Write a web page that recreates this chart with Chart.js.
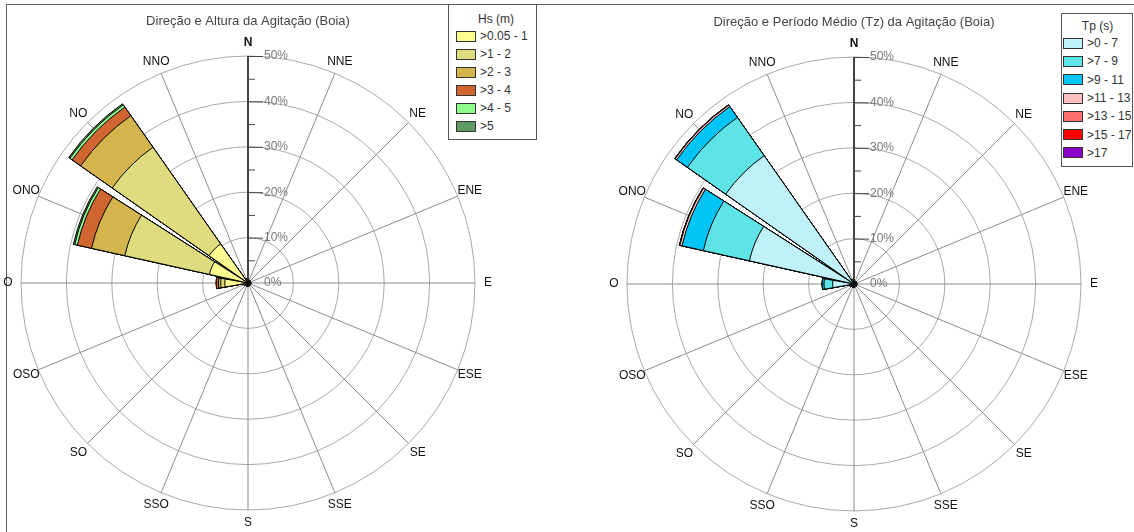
<!DOCTYPE html>
<html>
<head>
<meta charset="utf-8">
<script src="https://cdn.jsdelivr.net/npm/chart.js@4.4.0/dist/chart.umd.min.js"></script>
<style>
  body { margin: 0; background: #fff; font-family: "Liberation Sans", Arial, sans-serif; }
  #page { position: relative; width: 1134px; height: 532px; overflow: hidden; background: #fff; }
  .frame { position: absolute; left: 6px; top: 4px; width: 1200px; height: 600px;
           border-top: 1px solid #666; border-left: 1px solid #666; }
  .box { position: absolute; top: 0; width: 496px; height: 532px; }
  .legend { position: absolute; box-sizing: border-box; border: 1px solid #555; background: #fff;
            font-size: 12px; color: #333; overflow: hidden; }
  .legend .ttl { height: 16px; line-height: 16px; text-align: center; }
  .legend .row { display: flex; align-items: center; white-space: nowrap; }
  .legend .sw { flex: none; box-sizing: border-box; width: 20px; height: 11px; border: 1px solid #333; margin-right: 4px; }
</style>
</head>
<body>
<div id="page">
  <div class="frame"></div>
  <div class="box" style="left:0px"><canvas id="hsChart"></canvas></div>
  <div class="box" style="left:606px;top:1px"><canvas id="tpChart"></canvas></div>
  <div class="legend" id="hsLegend" style="left:448px;top:4px;width:89px;height:136px;padding:6px 0 0 7px"></div>
  <div class="legend" id="tpLegend" style="left:1061px;top:13px;width:72px;height:154px;padding:4px 0 0 1px"></div>
</div>
<script>
// directions, clockwise from north
const directions = ['N', 'NNE', 'NE', 'ENE', 'E', 'ESE', 'SE', 'SSE', 'S', 'SSO', 'SO', 'OSO', 'O', 'ONO', 'NO', 'NNO'];

// Hs (m) classes, % of occurrences per direction
const hsLabels = ['>0.05 - 1', '>1 - 2', '>2 - 3', '>3 - 4', '>4 - 5', '>5'];
const hs1 = [0.7, 0.6, 0.6, 0.6, 0.6, 0.6, 0.6, 0.6, 0.7, 0.7, 0.7, 0.9, 5.1, 8.7, 10.5, 0.9];
const hs2 = [0, 0, 0, 0, 0, 0, 0, 0, 0, 0, 0, 0, 0.9, 19.1, 26.0, 0];
const hs3 = [0, 0, 0, 0, 0, 0, 0, 0, 0, 0, 0, 0, 0.5, 7.5, 8.5, 0];
const hs4 = [0, 0, 0, 0, 0, 0, 0, 0, 0, 0, 0, 0, 0.5, 3.2, 2.3, 0];
const hs5 = [0, 0, 0, 0, 0, 0, 0, 0, 0, 0, 0, 0, 0, 0.6, 0.6, 0];
const hs6 = [0, 0, 0, 0, 0, 0, 0, 0, 0, 0, 0, 0, 0, 0.3, 0.3, 0];

// Tp (s) classes
const tpLabels = ['>0 - 7', '>7 - 9', '>9 - 11', '>11 - 13', '>13 - 15', '>15 - 17', '>17'];
const tp1 = [0.7, 0.6, 0.6, 0.6, 0.6, 0.6, 0.6, 0.6, 0.7, 0.7, 0.7, 0.9, 4.7, 23.6, 34.5, 0.9];
const tp2 = [0, 0, 0, 0, 0, 0, 0, 0, 0, 0, 0, 0, 1.9, 10.4, 10.3, 0];
const tp3 = [0, 0, 0, 0, 0, 0, 0, 0, 0, 0, 0, 0, 0.4, 4.8, 2.9, 0];
const tp4 = [0, 0, 0, 0, 0, 0, 0, 0, 0, 0, 0, 0, 0, 0.5, 0.4, 0];
const tp5 = [0, 0, 0, 0, 0, 0, 0, 0, 0, 0, 0, 0, 0, 0.1, 0.1, 0];
const tp6 = [0, 0, 0, 0, 0, 0, 0, 0, 0, 0, 0, 0, 0, 0, 0, 0];
const tp7 = [0, 0, 0, 0, 0, 0, 0, 0, 0, 0, 0, 0, 0, 0, 0, 0];

const hsColors = ['#fdfc90', '#dedc7e', '#d4b44c', '#d0652f', '#8dfc8d', '#5f9a60'];
const tpColors = ['#bff1fb', '#5ee4e6', '#00c5f5', '#ffbfbf', '#ff6e6e', '#ff0000', '#8a00c8'];

const FONT = '"Liberation Sans", Arial, sans-serif';
const WEDGE = 20, GAP = 2.5;
Chart.defaults.font.family = FONT;

// stacked rose: each class drawn as cumulative sector, smallest class on top
function cumulative(bins) {
  let run = directions.map(() => 0);
  return bins.map(b => (run = run.map((v, i) => v + b[i])));
}
// element 0 is an empty arc with negative angle so that N is centred on the axis
function roseData(values) {
  return [0].concat(values.flatMap(v => [v, 0]));
}

// % labels beside the north axis, and direction names centred off the rim
const roseText = {
  id: 'roseText',
  afterDatasetsDraw(chart) {
    const s = chart.scales.r, ctx = chart.ctx;
    ctx.save();
    ctx.strokeStyle = '#444';
    ctx.lineWidth = 1;
    ctx.fillStyle = '#777';
    ctx.font = '12px ' + FONT;
    ctx.textAlign = 'left';
    ctx.textBaseline = 'middle';
    s.ticks.forEach((t, i) => {
      const y = s.yCenter - s.getDistanceFromCenterForValue(t.value);
      if (i > 0) {
        ctx.beginPath(); ctx.moveTo(s.xCenter, y + 0.5); ctx.lineTo(s.xCenter + 15, y + 0.5); ctx.stroke();
        const prev = s.ticks[i - 1].value;
        const ym = s.yCenter - s.getDistanceFromCenterForValue((prev + t.value) / 2);
        ctx.beginPath(); ctx.moveTo(s.xCenter, ym + 0.5); ctx.lineTo(s.xCenter + 7, ym + 0.5); ctx.stroke();
      }
      ctx.fillText(t.label, s.xCenter + 16, y);
    });
    ctx.fillStyle = '#111';
    ctx.textAlign = 'center';
    chart.data.labels.forEach((lab, i) => {
      const p = s.getPointPosition(i, s.drawingArea + 13);
      ctx.font = (i === 0 ? 'bold ' : '') + '12px ' + FONT;
      ctx.fillText(lab, p.x, p.y);
    });
    ctx.restore();
  }
};

function makeRose(id, title, labels, bins, colors) {
  const cum = cumulative(bins);
  new Chart(document.getElementById(id), {
    type: 'polarArea',
    data: {
      labels: directions,
      datasets: cum.map((c, k) => ({
        label: labels[k],
        data: roseData(c),
        backgroundColor: colors[k],
        borderColor: '#000',
        borderWidth: ctx => (ctx.dataIndex % 2 === 1 ? 1 : 0),
        angle: ctx => (ctx.dataIndex === 0 ? -WEDGE / 2 : (ctx.dataIndex % 2 === 1 ? WEDGE : GAP))
      }))
    },
    options: {
      responsive: true,
      maintainAspectRatio: false,
      animation: false,
      layout: { padding: { bottom: 22 } },
      plugins: {
        legend: { display: false },
        tooltip: { enabled: false },
        title: {
          display: true,
          text: title,
          color: '#444',
          font: { size: 13, weight: 'normal' },
          padding: { top: 14, bottom: 26.4 }
        }
      },
      scales: {
        r: {
          min: 0,
          max: 50,
          startAngle: 0,
          ticks: { stepSize: 10, display: false, callback: v => v + '%' },
          grid: { circular: true, color: '#a9a9a9', lineWidth: 1 },
          angleLines: {
            display: true,
            color: c => (c.index === 0 ? '#444' : '#8c8c8c'),
            lineWidth: c => (c.index === 0 ? 2 : 1)
          },
          pointLabels: { display: false }
        }
      }
    },
    plugins: [roseText]
  });
}

function makeLegend(id, title, labels, colors, rowH) {
  const el = document.getElementById(id);
  let html = '<div class="ttl">' + title + '</div>';
  labels.forEach((l, k) => {
    html += '<div class="row" style="height:' + rowH + 'px"><span class="sw" style="background:' + colors[k] + '"></span>' + l + '</div>';
  });
  el.innerHTML = html;
}

makeRose('hsChart', 'Direção e Altura da Agitação (Boia)', hsLabels, [hs1, hs2, hs3, hs4, hs5, hs6], hsColors);
makeRose('tpChart', 'Direção e Período Médio (Tz) da Agitação (Boia)', tpLabels, [tp1, tp2, tp3, tp4, tp5, tp6, tp7], tpColors);
makeLegend('hsLegend', 'Hs (m)', hsLabels, hsColors, 18);
makeLegend('tpLegend', 'Tp (s)', tpLabels, tpColors, 18.3);
</script>
</body>
</html>
